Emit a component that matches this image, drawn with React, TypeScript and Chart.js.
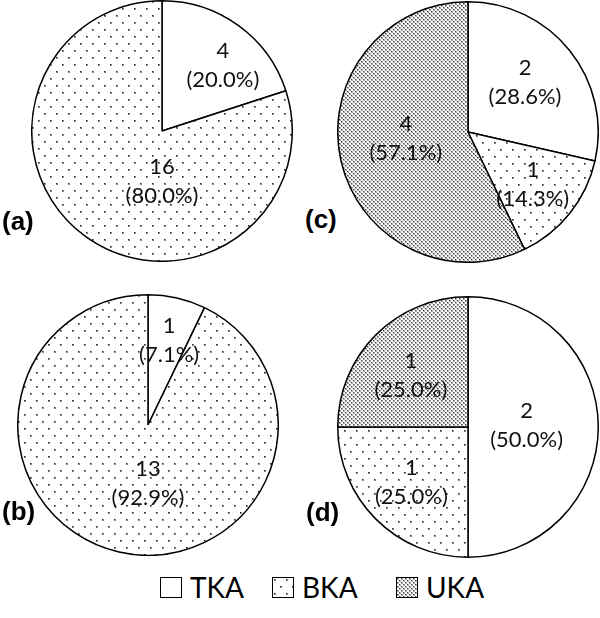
import React, { useEffect, useRef, useMemo } from 'react';
import { Chart, registerables } from 'chart.js';

Chart.register(...registerables);

// ---- data ----
const CATEGORIES = ['TKA', 'BKA', 'UKA'];
const PANEL_TAGS = ['(a)', '(b)', '(c)', '(d)'];
const VALUES_A = [4, 16, 0];
const VALUES_B = [1, 13, 0];
const VALUES_C = [2, 1, 4];
const VALUES_D = [2, 1, 1];

// ---- styling / layout (not data) ----
const FILL_KINDS = ['blank', 'sparse', 'dense'];
const PIE_SIZE = 262;
const LABEL_FONT = '22px Lato';
const LABEL_GAP = 29;

// label anchor per slice: [angle in degrees clockwise from top, fraction of radius]
const PANELS = [
  { values: VALUES_A, left: 31, top: 0, tagLeft: 2, tagY: 221, place: [[43, 0.685], [180, 0.385], [0, 0]] },
  { values: VALUES_B, left: 17, top: 294, tagLeft: 2, tagY: 511, place: [[14, 0.67], [180, 0.45], [0, 0]] },
  { values: VALUES_C, left: 337, top: 1, tagLeft: 305, tagY: 219, place: [[49, 0.58], [129, 0.64], [264, 0.48]] },
  { values: VALUES_D, left: 337, top: 296, tagLeft: 306, tagY: 512, place: [[88, 0.45], [225.5, 0.61], [312, 0.59]] },
];

const LEGEND_POS = [160, 272, 396];
const LEGEND_Y = 574;

function makeTile(kind: string): HTMLCanvasElement {
  const c = document.createElement('canvas');
  const ctx = c.getContext('2d') as CanvasRenderingContext2D;
  if (kind === 'sparse') {
    c.width = 12;
    c.height = 14;
    ctx.fillStyle = '#ffffff';
    ctx.fillRect(0, 0, 12, 14);
    ctx.fillStyle = '#888888';
    ctx.fillRect(1, 1, 2, 2);
    ctx.fillRect(7, 8, 2, 2);
    ctx.fillStyle = '#222222';
    ctx.fillRect(1, 1, 1, 1);
    ctx.fillRect(7, 8, 1, 1);
  } else if (kind === 'dense') {
    c.width = 4;
    c.height = 4;
    ctx.fillStyle = '#ffffff';
    ctx.fillRect(0, 0, 4, 4);
    ctx.fillStyle = '#a8a8a8';
    ctx.fillRect(0, 0, 2, 2);
    ctx.fillRect(2, 2, 2, 2);
    ctx.fillStyle = '#3a3a3a';
    ctx.fillRect(0, 0, 1, 1);
    ctx.fillRect(2, 2, 1, 1);
  } else {
    c.width = 2;
    c.height = 2;
    ctx.fillStyle = '#ffffff';
    ctx.fillRect(0, 0, 2, 2);
  }
  return c;
}

function labelPlugin(place: number[][]) {
  return {
    id: 'sliceLabels',
    afterDatasetsDraw(chart: any) {
      const ctx = chart.ctx as CanvasRenderingContext2D;
      const meta = chart.getDatasetMeta(0);
      const data = chart.data.datasets[0].data as number[];
      const total = data.reduce((s, v) => s + v, 0);
      ctx.save();
      ctx.font = LABEL_FONT;
      ctx.fillStyle = '#111111';
      ctx.textAlign = 'center';
      ctx.textBaseline = 'middle';
      meta.data.forEach((arc: any, i: number) => {
        const v = data[i];
        if (!v) return;
        const p = arc.getProps(['x', 'y', 'outerRadius'], true);
        const [deg, f] = place[i];
        const a = ((deg - 90) * Math.PI) / 180;
        const px = p.x + Math.cos(a) * f * p.outerRadius;
        const py = p.y + Math.sin(a) * f * p.outerRadius;
        ctx.fillText(String(v), px, py - LABEL_GAP / 2);
        ctx.fillText('(' + ((v / total) * 100).toFixed(1) + '%)', px, py + LABEL_GAP / 2);
      });
      ctx.restore();
    },
  };
}

function Pie({ values, place }: { values: number[]; place: number[][] }) {
  const ref = useRef<HTMLCanvasElement>(null);
  useEffect(() => {
    const canvas = ref.current as HTMLCanvasElement;
    const ctx = canvas.getContext('2d') as CanvasRenderingContext2D;
    const fills = FILL_KINDS.map((k) => ctx.createPattern(makeTile(k), 'repeat'));
    const chart = new Chart(canvas, {
      type: 'pie',
      data: {
        labels: CATEGORIES,
        datasets: [
          {
            data: values,
            backgroundColor: fills as any,
            borderColor: '#000000',
            borderWidth: 1.5,
          },
        ],
      },
      options: {
        responsive: false,
        animation: false,
        events: [],
        layout: { padding: 0 },
        plugins: { legend: { display: false }, tooltip: { enabled: false } },
      },
      plugins: [labelPlugin(place)],
    } as any);
    return () => chart.destroy();
  }, []);
  return <canvas ref={ref} width={PIE_SIZE} height={PIE_SIZE} style={{ display: 'block', width: PIE_SIZE, height: PIE_SIZE }} />;
}

export default function App() {
  const swatches = useMemo(() => FILL_KINDS.map((k) => makeTile(k).toDataURL()), []);
  return (
    <div style={{ position: 'absolute', left: 0, top: 0, width: 600, height: 618, background: '#ffffff', overflow: 'hidden' }}>
      {PANELS.map((p, i) => (
        <div key={i} style={{ position: 'absolute', left: p.left, top: p.top, width: PIE_SIZE, height: PIE_SIZE }}>
          <Pie values={p.values} place={p.place} />
        </div>
      ))}
      {PANELS.map((p, i) => (
        <div
          key={'t' + i}
          style={{
            position: 'absolute',
            left: p.tagLeft,
            top: p.tagY - 15,
            height: 30,
            lineHeight: '30px',
            font: 'bold 26px "Liberation Sans", Arial, sans-serif',
            color: '#000',
          }}
        >
          {PANEL_TAGS[i]}
        </div>
      ))}
      {CATEGORIES.map((c, i) => (
        <div
          key={'l' + i}
          style={{ position: 'absolute', left: LEGEND_POS[i], top: LEGEND_Y, height: 26, display: 'flex', alignItems: 'center' }}
        >
          <div
            style={{
              width: 22,
              height: 21,
              border: '1.5px solid #000',
              backgroundImage: `url(${swatches[i]})`,
              backgroundRepeat: 'repeat',
              boxSizing: 'border-box',
            }}
          />
          <span style={{ marginLeft: 8, font: '28px Lato, sans-serif', lineHeight: '26px', color: '#000' }}>{c}</span>
        </div>
      ))}
    </div>
  );
}
